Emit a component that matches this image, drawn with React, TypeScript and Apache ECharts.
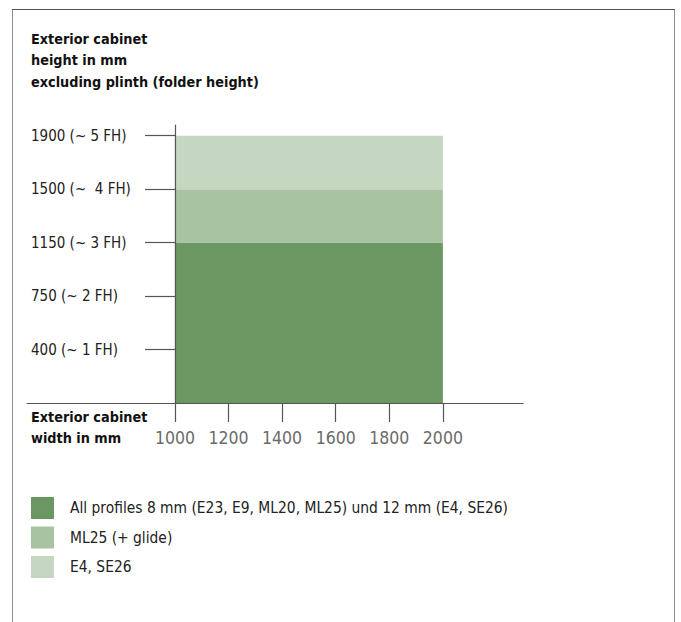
import React, { useEffect, useRef } from "react";
import * as echarts from "echarts";

// Data
const widthTicks = [1000, 1200, 1400, 1600, 1800, 2000];
const widthStart = 1000;
const widthEnd = 2000;
const fhTicks = [1, 2, 3, 4, 5];
const heightTickLabels = ["400 (~ 1 FH)", "750 (~ 2 FH)", "1150 (~ 3 FH)", "1500 (~  4 FH)", "1900 (~ 5 FH)"];
const seriesNames = [
  "All profiles 8 mm (E23, E9, ML20, ML25) und 12 mm (E4, SE26)",
  "ML25 (+ glide)",
  "E4, SE26",
];
const fhLower = [0, 3, 4];
const fhUpper = [3, 4, 5];
const seriesColors = ["#6b9862", "#a8c3a1", "#c5d7c1"];

const NARROW = '"DejaVu Sans Condensed", "Liberation Sans Narrow", sans-serif';

export default function App() {
  const ref = useRef<HTMLDivElement>(null);
  useEffect(() => {
    if (!ref.current) return;
    const chart = echarts.init(ref.current, null, { renderer: "svg" });
    const series = seriesNames.map((name, i) => ({
      type: "custom",
      name,
      z: 1,
      itemStyle: { color: seriesColors[i] },
      encode: { x: [0, 1], y: [2, 3] },
      data: [[widthStart, widthEnd, fhLower[i], fhUpper[i]]],
      renderItem: (params: any, api: any) => {
        const p0 = api.coord([api.value(0), api.value(2)]);
        const p1 = api.coord([api.value(1), api.value(3)]);
        return {
          type: "rect",
          shape: { x: p0[0], y: p1[1], width: p1[0] - p0[0], height: p0[1] - p1[1] },
          style: api.style(),
        };
      },
    }));
    chart.setOption({
      animation: false,
      title: [
        {
          text: "Exterior cabinet\nheight in mm\nexcluding plinth (folder height)",
          left: 31,
          top: 28,
          padding: 0,
          textStyle: { fontFamily: NARROW, fontWeight: "bold", fontSize: 14.3, lineHeight: 21.5, color: "#111" },
        },
        {
          text: "Exterior cabinet\nwidth in mm",
          left: 31,
          top: 406,
          padding: 0,
          textStyle: { fontFamily: NARROW, fontWeight: "bold", fontSize: 14.3, lineHeight: 21.5, color: "#111" },
        },
      ],
      legend: {
        orient: "vertical",
        left: 31,
        top: 497,
        padding: 0,
        itemWidth: 23,
        itemHeight: 22,
        itemGap: 7.5,
        icon: "rect",
        selectedMode: false,
        data: seriesNames,
        textStyle: { fontFamily: NARROW, fontSize: 15.4, color: "#222", padding: [0, 0, 0, 11] },
      },
      graphic: [
        {
          type: "rect",
          shape: { x: 12.5, y: 9.5, width: 662, height: 700 },
          style: { fill: "none", stroke: "#8f8f8f", lineWidth: 1 },
        },
        {
          type: "line",
          shape: { x1: 12, y1: 9.5, x2: 675, y2: 9.5 },
          style: { stroke: "#555", lineWidth: 1 },
        },
      ],
      grid: { left: 27, right: 681 - 523, top: 125, bottom: 622 - 403, containLabel: false },
      xAxis: {
        type: "value",
        min: 448,
        max: 2299,
        z: 5,
        splitLine: { show: false },
        axisLine: { show: true, lineStyle: { color: "#555", width: 1.2 } },
        axisTick: { show: true, length: 19, customValues: widthTicks, lineStyle: { color: "#555", width: 1.2 } },
        axisLabel: {
          customValues: widthTicks,
          margin: 26,
          hideOverlap: false,
          fontFamily: NARROW,
          fontSize: 17.5,
          color: "#6a6a6a",
          formatter: (v: number) => String(v),
        },
      },
      yAxis: {
        type: "value",
        min: 0,
        max: 5.2,
        offset: -148,
        z: 5,
        splitLine: { show: false },
        axisLine: { show: true, lineStyle: { color: "#555", width: 1.2 } },
        axisTick: { show: true, length: 30, customValues: fhTicks, lineStyle: { color: "#555", width: 1.2 } },
        axisLabel: {
          customValues: fhTicks,
          align: "left",
          margin: 144,
          fontFamily: NARROW,
          fontSize: 15,
          color: "#222",
          formatter: (v: number) => heightTickLabels[fhTicks.indexOf(Math.round(v))] ?? "",
        },
      },
      series,
    });
    return () => chart.dispose();
  }, []);
  return (
    <div
      ref={ref}
      style={{ position: "absolute", left: 0, top: 0, width: 681, height: 622, background: "#fff" }}
    />
  );
}
